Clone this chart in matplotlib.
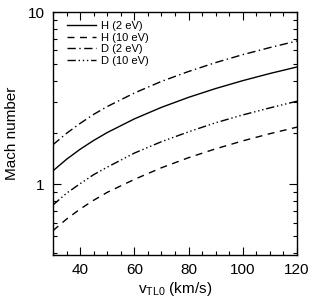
import matplotlib
matplotlib.use("Agg")
import matplotlib.pyplot as plt
from matplotlib.ticker import MultipleLocator, LogLocator, NullFormatter, FixedLocator, FixedFormatter

plt.rcParams['font.family'] = ['Liberation Sans', 'DejaVu Sans']
plt.rcParams['mathtext.fontset'] = 'custom'
plt.rcParams['mathtext.rm'] = 'Liberation Sans'

v = [30, 35, 40, 45, 50, 60, 70, 80, 90, 100, 110, 120]
h_2ev = [1.20, 1.40, 1.60, 1.80, 2.00, 2.40, 2.80, 3.20, 3.60, 4.00, 4.40, 4.80]
h_10ev = [0.54, 0.63, 0.72, 0.81, 0.90, 1.07, 1.25, 1.43, 1.61, 1.79, 1.97, 2.15]
d_2ev = [1.70, 1.98, 2.26, 2.55, 2.83, 3.39, 3.96, 4.52, 5.09, 5.66, 6.22, 6.79]
d_10ev = [0.76, 0.89, 1.01, 1.14, 1.26, 1.52, 1.77, 2.02, 2.28, 2.53, 2.78, 3.04]
labels = ['H (2 eV)', 'H (10 eV)', 'D (2 eV)', 'D (10 eV)']

fig = plt.figure(figsize=(3.18, 3.05), dpi=100)
ax = fig.add_axes([53/318, 1 - 255/305, (297-53)/318, (255-12)/305])

lw = 1.0
ax.plot(v, h_2ev, color='black', lw=lw, ls='-', label=labels[0])
ax.plot(v, h_10ev, color='black', lw=lw, ls=(0, (5, 4)), label=labels[1])
ax.plot(v, d_2ev, color='black', lw=lw, ls=(0, (6, 2.5, 1, 2.5)), label=labels[2])
ax.plot(v, d_10ev, color='black', lw=lw, ls=(0, (6, 2, 1, 2, 1, 2, 1, 2)), label=labels[3])

ax.set_yscale('log')
ax.set_xlim(30, 120)
ax.set_ylim(0.39, 10)

ax.xaxis.set_major_locator(MultipleLocator(20))
ax.xaxis.set_minor_locator(MultipleLocator(5))
ax.yaxis.set_major_locator(FixedLocator([1, 10]))
ax.yaxis.set_major_formatter(FixedFormatter(['1', '10']))
ax.yaxis.set_minor_locator(LogLocator(base=10, subs=[2, 3, 4, 5, 6, 7, 8, 9]))
ax.yaxis.set_minor_formatter(NullFormatter())

ax.tick_params(which='both', direction='in', top=True, right=True, width=0.8, labelsize=11, pad=6)
ax.tick_params(which='major', length=6)
ax.tick_params(which='minor', length=3)
for s in ax.spines.values():
    s.set_linewidth(1.0)

ax.set_xlabel(r'v$_{\rm TL0}$ (km/s)', fontsize=11, labelpad=2)
ax.set_ylabel('Mach number', fontsize=11, labelpad=6)

leg = ax.legend(loc='upper left', frameon=False, fontsize=8, handlelength=2.6,
                handletextpad=0.5, labelspacing=0.15, borderaxespad=0.4,
                bbox_to_anchor=(0.02, 1.0))

fig.savefig('out.png', dpi=100)
